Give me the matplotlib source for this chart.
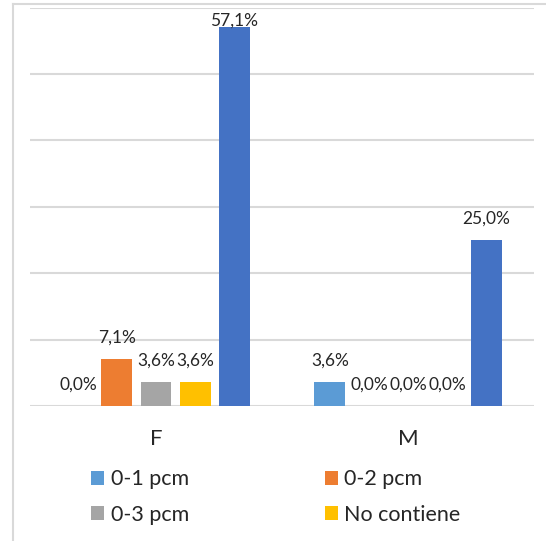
import numpy as np
import matplotlib.pyplot as plt
from matplotlib.lines import Line2D

plt.rcParams['font.family'] = ['Lato', 'DejaVu Sans']

categorias = ['F', 'M']
series = ['0-1 pcm', '0-2 pcm', '0-3 pcm', 'No contiene', 'Total']
valores = [
    [0.0, 3.6],    # 0-1 pcm
    [7.1, 0.0],    # 0-2 pcm
    [3.6, 0.0],    # 0-3 pcm
    [3.6, 0.0],    # No contiene
    [57.1, 25.0],  # Total (sin entrada en la leyenda)
]
colores = ['#5B9BD5', '#ED7D31', '#A5A5A5', '#FFC000', '#4472C4']

fig = plt.figure(figsize=(5.46, 5.41), dpi=100)
ax = fig.add_axes([30/546, 1-406/541, 504/546, 398.4/541])

x = np.arange(len(categorias))
ancho = 0.123
paso = 0.155
barras = []
for i, (nombre, vals) in enumerate(zip(series, valores)):
    pos = x + (i - 2) * paso
    b = ax.bar(pos, vals, ancho, color=colores[i], label=nombre, zorder=3)
    barras.append(b)
    for p, v in zip(pos, vals):
        txt = f'{v:.1f}%'.replace('.', ',')
        off = 12 if v < 55 else 0.6   # Excel empuja la etiqueta hacia abajo
        ax.annotate(txt, (p, v), xytext=(0, off), textcoords='offset points',
                    ha='center', va='baseline', fontsize=12.5, color='#262626')

ax.set_xlim(-0.5, 1.5)
ax.set_ylim(0, 60)
ax.set_yticks(np.arange(0, 61, 10))
ax.yaxis.grid(True, color='#D9D9D9', linewidth=1.5, zorder=0)
ax.tick_params(axis='y', left=False, labelleft=False)
ax.tick_params(axis='x', bottom=False, labelsize=16, colors='#262626', pad=13)
ax.set_xticks(x)
ax.set_xticklabels(categorias)
for s in ax.spines.values():
    s.set_visible(False)

# orden por filas como en Excel
orden = [0, 2, 1, 3]
fig.legend(handles=[barras[k] for k in orden], labels=[series[k] for k in orden],
           ncol=2, frameon=False,
           loc='upper left', bbox_to_anchor=(72/546, 1-450/541),
           fontsize=15.5, handlelength=0.6, handleheight=0.6, handletextpad=0.3,
           columnspacing=6.3, labelspacing=0.72, labelcolor='#262626')

# marco del grafico
fig.add_artist(Line2D([12.5/546, 12.5/546], [0, 1-4/541], color='#D9D9D9', lw=1.5))
fig.add_artist(Line2D([12.5/546, 1], [1-4/541, 1-4/541], color='#D9D9D9', lw=1.5))

fig.savefig('out.png', dpi=100)
